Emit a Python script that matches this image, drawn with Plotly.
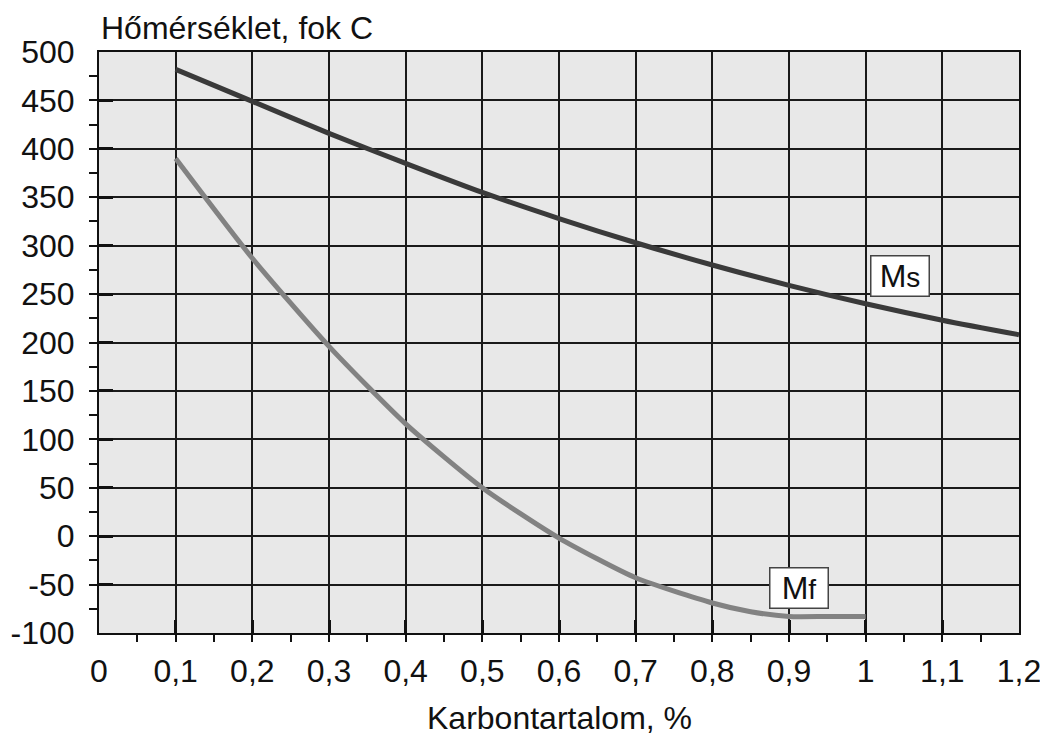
import plotly.graph_objects as go

# Data
carbon_ms = [0.1, 0.2, 0.3, 0.4, 0.5, 0.6, 0.7, 0.8, 0.9, 1.0, 1.1, 1.2]
temp_ms = [482, 449, 416, 385, 355, 328, 303, 280, 259, 240, 223, 208]

carbon_mf = [0.1, 0.2, 0.3, 0.4, 0.5, 0.6, 0.7, 0.8, 0.85, 0.9, 0.95, 1.0]
temp_mf = [390, 287, 196, 116, 50, -2, -43, -69, -78, -83, -83, -83]

x_tick_vals = [0, 0.1, 0.2, 0.3, 0.4, 0.5, 0.6, 0.7, 0.8, 0.9, 1.0, 1.1, 1.2]
x_tick_text = ["0", "0,1", "0,2", "0,3", "0,4", "0,5", "0,6", "0,7", "0,8", "0,9", "1", "1,1", "1,2"]
y_tick_vals = [-100, -50, 0, 50, 100, 150, 200, 250, 300, 350, 400, 450, 500]
y_tick_text = ["-100", "-50", "0", "50", "100", "150", "200", "250", "300", "350", "400", "450", "500"]

y_title = "Hőmérséklet, fok C"
x_title = "Karbontartalom, %"

FONT = "Liberation Sans, Arial, sans-serif"
FS = 32

fig = go.Figure()
fig.add_trace(go.Scatter(x=carbon_ms, y=temp_ms, mode="lines",
                         line=dict(color="#3a3a3a", width=5, shape="spline", smoothing=0.8),
                         showlegend=False, hoverinfo="skip"))
fig.add_trace(go.Scatter(x=carbon_mf, y=temp_mf, mode="lines",
                         line=dict(color="#828282", width=5, shape="spline", smoothing=0.6),
                         showlegend=False, hoverinfo="skip"))

axis_common = dict(showline=True, linecolor="#111", linewidth=2, mirror=True,
                   showgrid=True, gridcolor="#1a1a1a", gridwidth=1.5, zeroline=False,
                   ticks="inside", tickcolor="#111", tickwidth=3, automargin=False,
                   tickfont=dict(family=FONT, size=FS, color="#111"))

fig.update_xaxes(range=[0, 1.2], tickmode="array", tickvals=x_tick_vals, ticktext=x_tick_text,
                 ticklen=13, ticklabelstandoff=9,
                 minor=dict(ticks="outside", ticklen=7, tickwidth=2, tickcolor="#111", dtick=0.05,
                            tick0=0, showgrid=False),
                 **axis_common)
fig.update_yaxes(range=[-100, 500], tickmode="array", tickvals=y_tick_vals, ticktext=y_tick_text,
                 ticklen=14, ticklabelstandoff=16,
                 minor=dict(ticks="outside", ticklen=8, tickwidth=2, tickcolor="#111", dtick=25,
                            tick0=0, showgrid=False),
                 **axis_common)

fig.add_annotation(text=y_title, xref="paper", yref="paper", x=0.0, y=1.042,
                   xanchor="left", yanchor="middle", showarrow=False,
                   font=dict(family=FONT, size=FS, color="#111"))
fig.add_annotation(text=x_title, xref="paper", yref="paper", x=0.5, y=-0.146,
                   xanchor="center", yanchor="middle", showarrow=False,
                   font=dict(family=FONT, size=FS, color="#111"))

fig.add_annotation(text="M<span style='font-size:28px'>s</span>", x=1.045, y=269,
                   showarrow=False, bgcolor="white", bordercolor="#444", borderwidth=1.5,
                   width=57, height=39, borderpad=0,
                   font=dict(family=FONT, size=32, color="#111"))
fig.add_annotation(text="M<span style='font-size:28px'>f</span>", x=0.913, y=-54,
                   showarrow=False, bgcolor="white", bordercolor="#444", borderwidth=1.5,
                   width=57, height=39, borderpad=0,
                   font=dict(family=FONT, size=32, color="#111"))

# page body has an 8px default margin, so the figure is sized 8px smaller
fig.update_layout(width=1040, height=727, margin=dict(l=91, r=29, t=44, b=102, autoexpand=False),
                  plot_bgcolor="#e8e8e8", paper_bgcolor="white",
                  font=dict(family=FONT, size=FS, color="#111"))

fig.write_html("out.html")
